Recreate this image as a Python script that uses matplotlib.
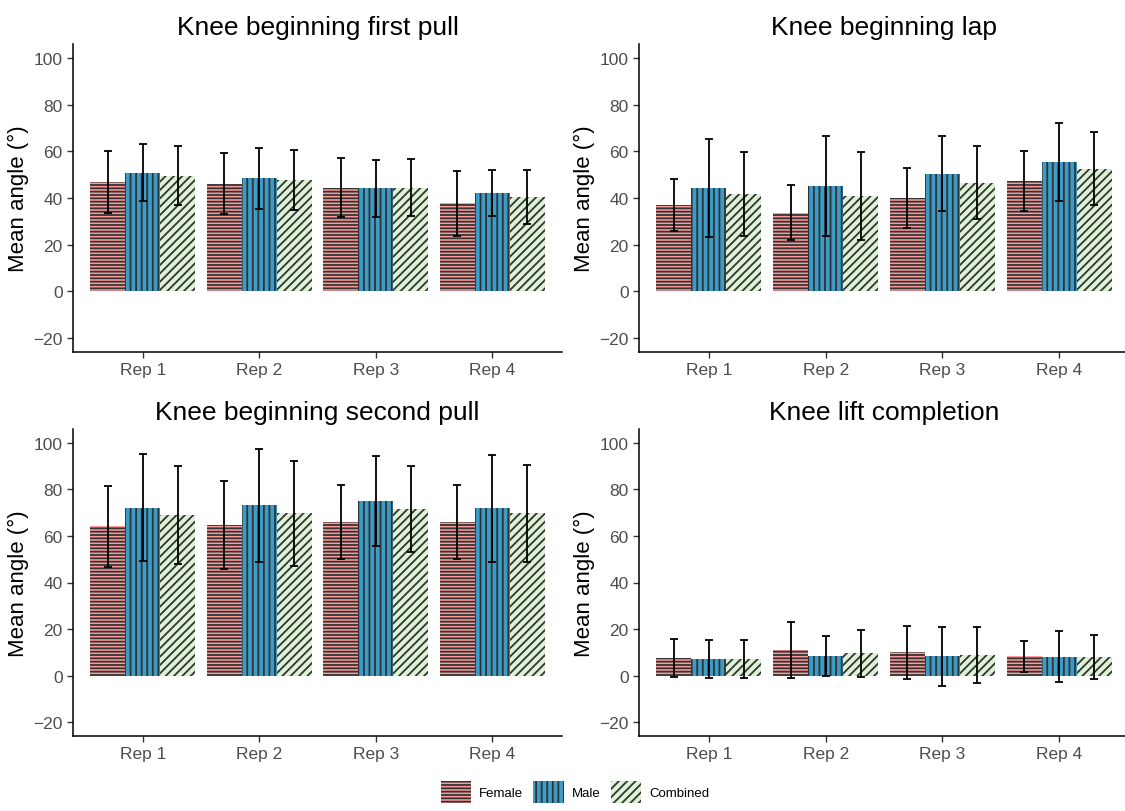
from matplotlib import pyplot as plt
from matplotlib.patches import Patch
import numpy as np

plt.rcParams["font.family"] = ["Liberation Sans", "DejaVu Sans"]
plt.rcParams["hatch.linewidth"] = 1.3

reps = ["Rep 1", "Rep 2", "Rep 3", "Rep 4"]
groups = ["Female", "Male", "Combined"]
titles = [
    "Knee beginning first pull",
    "Knee beginning lap",
    "Knee beginning second pull",
    "Knee lift completion",
]

# mean angle per rep, one list per group
first_pull_mean = {
    "Female": [46.9, 46.1, 44.4, 37.7],
    "Male": [50.9, 48.4, 44.1, 42.2],
    "Combined": [49.5, 47.7, 44.4, 40.5],
}
first_pull_sd = {
    "Female": [13.2, 13.1, 12.6, 13.9],
    "Male": [12.3, 12.9, 12.1, 9.8],
    "Combined": [12.7, 12.8, 12.3, 11.6],
}

lap_mean = {
    "Female": [37.1, 33.7, 40.0, 47.4],
    "Male": [44.4, 45.2, 50.5, 55.3],
    "Combined": [41.7, 40.7, 46.5, 52.5],
}
lap_sd = {
    "Female": [11.1, 11.9, 12.7, 12.8],
    "Male": [21.0, 21.5, 16.0, 16.7],
    "Combined": [18.0, 18.9, 15.7, 15.6],
}

second_pull_mean = {
    "Female": [64.2, 64.7, 66.0, 66.0],
    "Male": [72.2, 73.2, 75.1, 71.9],
    "Combined": [69.1, 69.8, 71.5, 69.7],
}
second_pull_sd = {
    "Female": [17.5, 18.9, 15.9, 15.8],
    "Male": [23.1, 24.3, 19.5, 23.0],
    "Combined": [21.2, 22.5, 18.6, 20.7],
}

completion_mean = {
    "Female": [7.5, 11.0, 10.0, 8.3],
    "Male": [7.1, 8.4, 8.3, 8.1],
    "Combined": [7.1, 9.5, 9.0, 8.1],
}
completion_sd = {
    "Female": [8.0, 12.1, 11.4, 6.7],
    "Male": [8.1, 8.6, 12.6, 11.0],
    "Combined": [8.1, 10.2, 12.0, 9.4],
}

panels = [
    (first_pull_mean, first_pull_sd),
    (lap_mean, lap_sd),
    (second_pull_mean, second_pull_sd),
    (completion_mean, completion_sd),
]

# STYLING
FILL = {"Female": "#FF9B9B", "Male": "#3B9CC8", "Combined": "#DDF2D5"}
HATCH = {"Female": "-----", "Male": "|||", "Combined": "////"}
HATCH_COLOR = "#333333"
BAR_WIDTH = 0.3

# axes boxes in pixels: left, right, top, bottom
W, H = 1125, 812
boxes = [
    (73, 562, 45, 353),
    (639, 1129, 45, 353),
    (73, 562, 430, 737),
    (639, 1129, 430, 737),
]

figure = plt.figure(figsize=(W / 100, H / 100), dpi=100)

x = np.arange(len(reps))
for (means, sds), title, (l, r, t, b) in zip(panels, titles, boxes):
    axis = figure.add_axes([l / W, 1 - b / H, (r - l) / W, (b - t) / H])
    for i, g in enumerate(groups):
        pos = x + (i - 1) * BAR_WIDTH
        axis.bar(
            pos, means[g], BAR_WIDTH,
            color=FILL[g], edgecolor=HATCH_COLOR, linewidth=0,
            hatch=HATCH[g],
        )
        axis.errorbar(
            pos, means[g], yerr=sds[g], fmt="none",
            ecolor="black", elinewidth=1.3, capsize=2.8, capthick=1.3,
        )

    axis.set_xlim(-0.6, len(reps) - 0.4)
    axis.set_ylim(-26, 106)
    axis.set_yticks([-20, 0, 20, 40, 60, 80, 100])
    axis.set_yticklabels(["\u221220", "0", "20", "40", "60", "80", "100"])
    axis.set_xticks(x)
    axis.set_xticklabels(reps)
    axis.tick_params(labelsize=12.5, labelcolor="#4D4D4D", color="#333333",
                     length=4, width=1)
    for side in ["top", "right"]:
        axis.spines[side].set_visible(False)
    for side in ["left", "bottom"]:
        axis.spines[side].set_linewidth(1.1)
    axis.set_ylabel("Mean angle (\u00b0)", fontsize=16, labelpad=3)
    axis.set_title(title, fontsize=19, pad=7)

handles = [
    Patch(facecolor=FILL[g], edgecolor=HATCH_COLOR, linewidth=0, hatch=HATCH[g])
    for g in groups
]
figure.legend(
    handles, groups, loc="center", bbox_to_anchor=(575 / W, 1 - 793 / H),
    ncol=3, frameon=False, fontsize=9.5, handlelength=2.3, handleheight=2.3,
    handletextpad=0.6, columnspacing=0.8,
)

figure.savefig("out.png", dpi=100)
